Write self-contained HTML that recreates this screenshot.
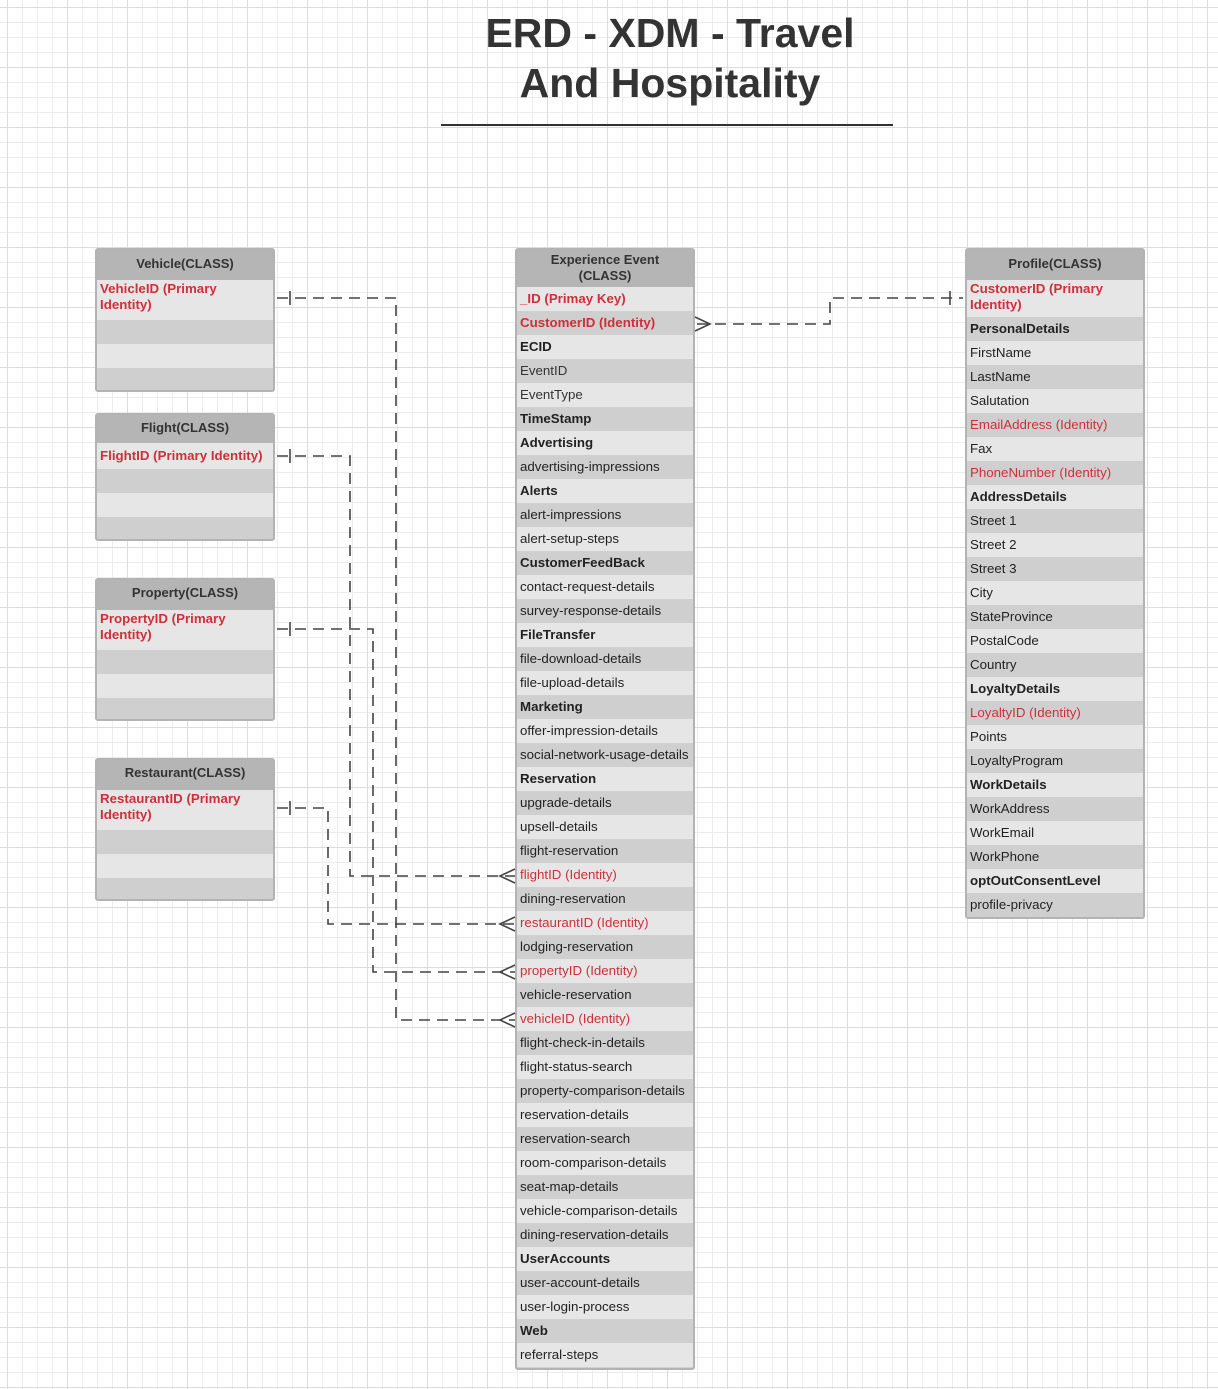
<!DOCTYPE html>
<html><head><meta charset="utf-8"><style>
html,body{margin:0;padding:0}
body{width:1218px;height:1389px;position:relative;overflow:hidden;font-family:"Liberation Sans",Arial,sans-serif;
background-color:#fff;
background-image:linear-gradient(#dcdcdc 1px,transparent 1px),linear-gradient(90deg,#dcdcdc 1px,transparent 1px),linear-gradient(#ececec 1px,transparent 1px),linear-gradient(90deg,#ececec 1px,transparent 1px);
background-size:60px 60px,60px 60px,15px 15px,15px 15px;background-position:7px 7px,7px 7px,7px 7px,7px 7px}
.title{position:absolute;left:440px;width:460px;top:8px;text-align:center;font-weight:bold;font-size:41px;line-height:50px;color:#333}
.hr{position:absolute;left:441px;top:124px;width:452px;height:2px;background:#333}
.box{position:absolute;width:180px;box-sizing:border-box;border:2px solid #b3b3b3;border-radius:3px;background:#cfcfcf;overflow:hidden}
.h{background:#b5b5b5;color:#333;font-weight:bold;font-size:13px;text-align:center;box-sizing:border-box}
.r{height:24px;line-height:24px;font-size:13.3px;padding-left:3px;color:#222;white-space:nowrap;overflow:hidden}
.l{background:#e6e6e6}.d{background:#cfcfcf}
.red{color:#cf2f3a}.b{font-weight:bold}.g{color:#333}
.two{height:auto;line-height:16px;padding-top:1px;white-space:normal}
svg{position:absolute;left:0;top:0}
</style></head><body>
<div class="title">ERD - XDM - Travel<br>And Hospitality</div>
<div class="hr"></div>

<div class="box" style="left:95px;top:248px;height:144px">
<div class="h" style="height:30px;line-height:28px">Vehicle(CLASS)</div>
<div class="r l two red b" style="height:40px;box-sizing:border-box">VehicleID (Primary<br>Identity)</div>
<div class="r d"></div><div class="r l"></div><div class="r d"></div></div>

<div class="box" style="left:95px;top:413px;height:128px">
<div class="h" style="height:28px;line-height:26px">Flight(CLASS)</div>
<div class="r l red b" style="height:26px;line-height:26px">FlightID (Primary Identity)</div>
<div class="r d"></div><div class="r l"></div><div class="r d"></div></div>

<div class="box" style="left:95px;top:578px;height:143px">
<div class="h" style="height:30px;line-height:26px">Property(CLASS)</div>
<div class="r l two red b" style="height:40px;box-sizing:border-box">PropertyID (Primary<br>Identity)</div>
<div class="r d"></div><div class="r l"></div><div class="r d"></div></div>

<div class="box" style="left:95px;top:758px;height:143px">
<div class="h" style="height:30px;line-height:26px">Restaurant(CLASS)</div>
<div class="r l two red b" style="height:40px;box-sizing:border-box">RestaurantID (Primary<br>Identity)</div>
<div class="r d"></div><div class="r l"></div><div class="r d"></div></div>

<div class="box" style="left:515px;top:248px;height:1122px">
<div class="h" style="height:37px;line-height:16px;padding-top:2px">Experience Event<br>(CLASS)</div>
<div class="r l red b">_ID (Primay Key)</div>
<div class="r d red b">CustomerID (Identity)</div>
<div class="r l b">ECID</div>
<div class="r d g">EventID</div>
<div class="r l g">EventType</div>
<div class="r d b">TimeStamp</div>
<div class="r l b">Advertising</div>
<div class="r d">advertising-impressions</div>
<div class="r l b">Alerts</div>
<div class="r d">alert-impressions</div>
<div class="r l">alert-setup-steps</div>
<div class="r d b">CustomerFeedBack</div>
<div class="r l">contact-request-details</div>
<div class="r d">survey-response-details</div>
<div class="r l b">FileTransfer</div>
<div class="r d">file-download-details</div>
<div class="r l">file-upload-details</div>
<div class="r d b">Marketing</div>
<div class="r l">offer-impression-details</div>
<div class="r d">social-network-usage-details</div>
<div class="r l b">Reservation</div>
<div class="r d">upgrade-details</div>
<div class="r l">upsell-details</div>
<div class="r d">flight-reservation</div>
<div class="r l red">flightID (Identity)</div>
<div class="r d">dining-reservation</div>
<div class="r l red">restaurantID (Identity)</div>
<div class="r d">lodging-reservation</div>
<div class="r l red">propertyID (Identity)</div>
<div class="r d">vehicle-reservation</div>
<div class="r l red">vehicleID (Identity)</div>
<div class="r d">flight-check-in-details</div>
<div class="r l">flight-status-search</div>
<div class="r d">property-comparison-details</div>
<div class="r l">reservation-details</div>
<div class="r d">reservation-search</div>
<div class="r l">room-comparison-details</div>
<div class="r d">seat-map-details</div>
<div class="r l">vehicle-comparison-details</div>
<div class="r d">dining-reservation-details</div>
<div class="r l b">UserAccounts</div>
<div class="r d">user-account-details</div>
<div class="r l">user-login-process</div>
<div class="r d b">Web</div>
<div class="r l">referral-steps</div>
</div>

<div class="box" style="left:965px;top:248px;height:671px">
<div class="h" style="height:30px;line-height:28px">Profile(CLASS)</div>
<div class="r l two red b" style="height:37px;box-sizing:border-box">CustomerID (Primary<br>Identity)</div>
<div class="r d b">PersonalDetails</div>
<div class="r l">FirstName</div>
<div class="r d">LastName</div>
<div class="r l">Salutation</div>
<div class="r d red">EmailAddress (Identity)</div>
<div class="r l">Fax</div>
<div class="r d red">PhoneNumber (Identity)</div>
<div class="r l b">AddressDetails</div>
<div class="r d">Street 1</div>
<div class="r l">Street 2</div>
<div class="r d">Street 3</div>
<div class="r l">City</div>
<div class="r d">StateProvince</div>
<div class="r l">PostalCode</div>
<div class="r d">Country</div>
<div class="r l b">LoyaltyDetails</div>
<div class="r d red">LoyaltyID (Identity)</div>
<div class="r l">Points</div>
<div class="r d">LoyaltyProgram</div>
<div class="r l b">WorkDetails</div>
<div class="r d">WorkAddress</div>
<div class="r l">WorkEmail</div>
<div class="r d">WorkPhone</div>
<div class="r l b">optOutConsentLevel</div>
<div class="r d">profile-privacy</div>
</div>

<svg width="1218" height="1389" viewBox="0 0 1218 1389">
<g fill="none" stroke="#444" stroke-width="1.6">
<g stroke-dasharray="11 7">
<path d="M277 298 H396 V1020 H515"/>
<path d="M277 456 H350 V876 H515"/>
<path d="M277 629 H373 V972 H515"/>
<path d="M277 808 H328 V924 H515"/>
<path d="M697 324 H830 V298 H963"/>
</g>
<path d="M290 291 V305 M290 449 V463 M290 622 V636 M290 801 V815 M950 291 V305"/>
<path d="M515 869 L500 876 L515 883 M515 917 L500 924 L515 931 M515 965 L500 972 L515 979 M515 1013 L500 1020 L515 1027"/>
<path d="M695 317 L710 324 L695 331"/>
</g>
</svg>
</body></html>
